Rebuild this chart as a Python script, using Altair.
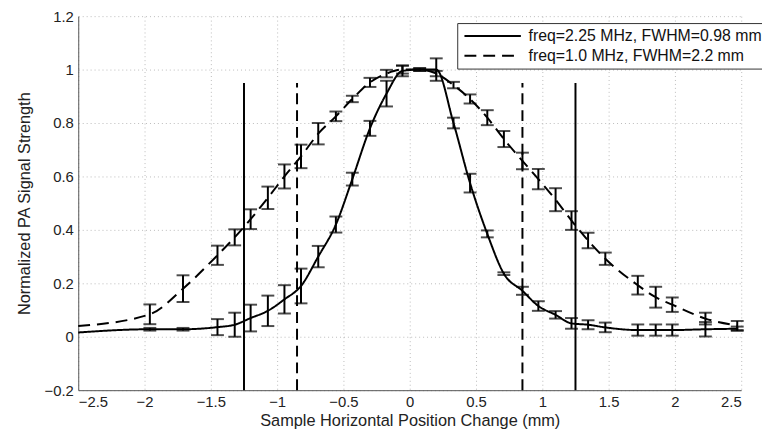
import altair as alt
import pandas as pd

# sample positions (mm)
x_pos = [-1.96, -1.71, -1.45, -1.32, -1.20, -1.07, -0.945, -0.82, -0.69, -0.557,
         -0.433, -0.30, -0.175, -0.055, 0.075, 0.20, 0.33, 0.455, 0.585, 0.71,
         0.85, 0.97, 1.10, 1.22, 1.345, 1.475, 1.72, 1.855, 1.98, 2.23, 2.47]

# freq = 2.25 MHz
solid_y = [0.028, 0.028, 0.036, 0.045, 0.07, 0.097, 0.14, 0.19, 0.30, 0.42,
           0.59, 0.78, 0.91, 0.995, 1.0, 1.0, 0.80, 0.575, 0.385, 0.236,
           0.172, 0.115, 0.082, 0.05, 0.045, 0.035, 0.025, 0.025, 0.025, 0.028, 0.03]
solid_err = [0.005, 0.005, 0.03, 0.045, 0.05, 0.057, 0.053, 0.065, 0.04, 0.03,
             0.024, 0.028, 0.048, 0.02, 0.005, 0.042, 0.02, 0.035, 0.013, 0.005,
             0.015, 0.018, 0.014, 0.02, 0.017, 0.018, 0.021, 0.021, 0.021, 0.027, 0.008]

# freq = 1.0 MHz
dashed_y = [0.084, 0.18, 0.305, 0.372, 0.44, 0.52, 0.60, 0.675, 0.76, 0.825,
            0.89, 0.952, 0.985, 1.0, 1.0, 0.985, 0.942, 0.89, 0.82, 0.74,
            0.658, 0.59, 0.513, 0.435, 0.36, 0.292, 0.193, 0.148, 0.12, 0.068, 0.042]
dashed_err = [0.037, 0.05, 0.036, 0.03, 0.037, 0.042, 0.045, 0.044, 0.04, 0.018,
              0.012, 0.017, 0.014, 0.015, 0.005, 0.01, 0.012, 0.017, 0.028, 0.03,
              0.031, 0.038, 0.043, 0.035, 0.029, 0.023, 0.035, 0.039, 0.027, 0.022, 0.017]

# curve start values at left edge
curve_start_x = -2.5
solid_start = 0.016
dashed_start = 0.04

# vertical marker lines
vline_solid_x = [-1.25, 1.25]
vline_dashed_x = [-0.85, 0.85]
vline_bottom = -0.2
vline_top = 0.95

labels = ["freq=2.25 MHz, FWHM=0.98 mm", "freq=1.0 MHz, FWHM=2.2 mm"]

x_ticks = [-2.5, -2, -1.5, -1, -0.5, 0, 0.5, 1, 1.5, 2, 2.5]
y_ticks = [-0.2, 0, 0.2, 0.4, 0.6, 0.8, 1, 1.2]

# ---- tables ----
rows = []
for s, ys, es in [(labels[0], solid_y, solid_err), (labels[1], dashed_y, dashed_err)]:
    for xv, yv, ev in zip(x_pos, ys, es):
        rows.append({"series": s, "x": xv, "y": yv, "lo": yv - ev, "hi": yv + ev})
pts = pd.DataFrame(rows)

line_rows = [{"series": labels[0], "x": curve_start_x, "y": solid_start},
             {"series": labels[1], "x": curve_start_x, "y": dashed_start}]
for r in rows:
    line_rows.append({"series": r["series"], "x": r["x"], "y": r["y"]})
lines = pd.DataFrame(line_rows)

vs = pd.DataFrame({"x": vline_solid_x, "y": [vline_bottom] * 2, "y2": [vline_top] * 2})
vd = pd.DataFrame({"x": vline_dashed_x, "y": [vline_bottom] * 2, "y2": [vline_top] * 2})

FONT = "Liberation Sans"
xs = alt.Scale(domain=[-2.5, 2.5], nice=False, zero=False)
ysc = alt.Scale(domain=[-0.2, 1.2], nice=False, zero=False)

x_axis = alt.Axis(values=x_ticks, format="~g", title="Sample Horizontal Position Change (mm)",
                  ticks=False, labelPadding=5, titlePadding=3, grid=True)
y_axis = alt.Axis(values=y_ticks, format="~g", title="Normalized PA Signal Strength",
                  ticks=False, labelPadding=5, titlePadding=12, grid=True)

line_layer = alt.Chart(lines).mark_line(color="black", strokeWidth=2, interpolate="monotone").encode(
    x=alt.X("x:Q", scale=xs, axis=x_axis),
    y=alt.Y("y:Q", scale=ysc, axis=y_axis),
    strokeDash=alt.StrokeDash(
        "series:N",
        scale=alt.Scale(domain=labels, range=[[1, 0], [12, 7]]),
        legend=alt.Legend(
            orient="none", legendX=383, legendY=7, title=None,
            strokeColor="#333", fillColor="white", padding=5,
            labelFont=FONT, labelFontSize=16, labelColor="#111",
            symbolType="M-1,0H9", symbolSize=130, symbolStrokeWidth=2,
            symbolStrokeColor="black", labelOffset=51, rowPadding=4,
            cornerRadius=0, labelLimit=400,
        ),
    ),
    order="x:Q",
)

err_layer = alt.Chart(pts).mark_rule(color="black", strokeWidth=2).encode(
    x="x:Q", y="lo:Q", y2="hi:Q")
cap_lo = alt.Chart(pts).mark_tick(color="black", orient="horizontal", size=13, thickness=2).encode(
    x="x:Q", y="lo:Q")
cap_hi = alt.Chart(pts).mark_tick(color="black", orient="horizontal", size=13, thickness=2).encode(
    x="x:Q", y="hi:Q")

vs_layer = alt.Chart(vs).mark_rule(color="black", strokeWidth=2).encode(
    x="x:Q", y="y:Q", y2="y2:Q")
vd_layer = alt.Chart(vd).mark_rule(color="black", strokeWidth=2, strokeDash=[11, 6]).encode(
    x="x:Q", y="y:Q", y2="y2:Q")

chart = alt.layer(vs_layer, vd_layer, line_layer, err_layer, cap_lo, cap_hi).properties(
    width=670, height=378,
    autosize=alt.AutoSizeParams(type="none"),
    padding={"left": 71, "top": 6, "right": 21, "bottom": 37},
).configure_view(stroke=None).configure_axis(
    labelFont=FONT, titleFont=FONT, labelFontSize=15, titleFontSize=16.5,
    labelColor="#222", titleColor="#222", titleFontWeight="normal",
    domainColor="#555", domainWidth=1, gridColor="#bbb", gridDash=[1, 3], gridWidth=1,
)

chart.save("out.html", embed_options={"renderer": "svg", "actions": False})
